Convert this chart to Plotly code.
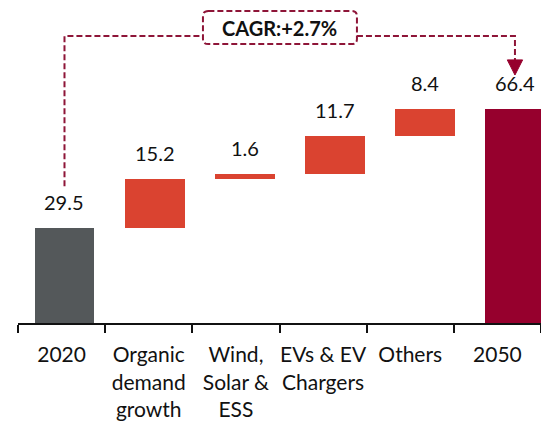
import plotly.graph_objects as go

# ---- data ----
categories = ["2020", "Organic<br>demand<br>growth", "Wind,<br>Solar &<br>ESS",
              "EVs & EV<br>Chargers", "Others", "2050"]
values = [29.5, 15.2, 1.6, 11.7, 8.4, 66.4]
measures = ["absolute", "relative", "relative", "relative", "relative", "total"]
value_labels = ["29.5", "15.2", "1.6", "11.7", "8.4", "66.4"]
cagr_text = "CAGR:+2.7%"

# ---- styles ----
GREY = "#54585A"
RED = "#DA4330"
DARK = "#96002D"
LINE = "#8E1538"
FONT = "Lato, 'Open Sans', sans-serif"
DASH = "6px,3px"

# compute bases / heights for floating bars
bases, heights, colors = [], [], []
running = 0.0
for v, m in zip(values, measures):
    if m == "absolute":
        bases.append(0); heights.append(v); colors.append(GREY); running = v
    elif m == "total":
        bases.append(0); heights.append(v); colors.append(DARK); running = v
    else:
        bases.append(running); heights.append(v); colors.append(RED); running += v

xpos = list(range(len(values)))

fig = go.Figure()
# invisible trace to establish category axis (labels and ticks)
fig.add_trace(go.Scatter(x=categories, y=[0] * len(categories), mode="markers",
                         marker=dict(opacity=0), hoverinfo="skip", showlegend=False,
                         xaxis="x", yaxis="y"))
fig.add_trace(go.Bar(x=xpos, y=heights, base=bases, marker=dict(color=colors, line=dict(width=0)),
                     width=0.665, xaxis="x2", yaxis="y", showlegend=False, hoverinfo="skip"))

annotations = []
for i, (b, h, t) in enumerate(zip(bases, heights, value_labels)):
    annotations.append(dict(x=i, y=b + h, xref="x2", yref="y", text=t, showarrow=False,
                            yanchor="bottom", yshift=12,
                            font=dict(family=FONT, size=20, color="#111111")))

# CAGR box and connector
bx0, bx1, by0, by1 = 1.537, 3.246, 86.6, 96.9
rx, ry = 0.06, 1.6
box_path = (f"M {bx0+rx},{by1} L {bx1-rx},{by1} Q {bx1},{by1} {bx1},{by1-ry} "
            f"L {bx1},{by0+ry} Q {bx1},{by0} {bx1-rx},{by0} L {bx0+rx},{by0} "
            f"Q {bx0},{by0} {bx0},{by0+ry} L {bx0},{by1-ry} Q {bx0},{by1} {bx0+rx},{by1} Z")
line_y = 89.1
start_x = xpos[0]
end_x = xpos[-1]
left_bottom = values[0] + 13
arrow_top = 81.7
arrow_tip = 77.0
aw = 0.085

shapes = [
    dict(type="path", path=box_path, xref="x2", yref="y",
         line=dict(color=LINE, width=2, dash=DASH), fillcolor="rgba(0,0,0,0)"),
    dict(type="path", xref="x2", yref="y",
         path=f"M {start_x},{left_bottom} L {start_x},{line_y} L {bx0},{line_y}",
         line=dict(color=LINE, width=2, dash=DASH)),
    dict(type="path", xref="x2", yref="y",
         path=f"M {bx1},{line_y} L {end_x},{line_y} L {end_x},{arrow_top}",
         line=dict(color=LINE, width=2, dash=DASH)),
    dict(type="path", xref="x2", yref="y",
         path=f"M {end_x-aw},{arrow_top} L {end_x+aw},{arrow_top} L {end_x},{arrow_tip} Z",
         line=dict(color=DARK, width=1), fillcolor=DARK),
]
annotations.append(dict(x=(bx0 + bx1) / 2, y=(by0 + by1) / 2, xref="x2", yref="y",
                        text=f"<b>{cagr_text}</b>", showarrow=False,
                        font=dict(family=FONT, size=20, color="#111111")))

fig.update_layout(
    width=541, height=422,
    margin=dict(l=18, r=0, t=0, b=99),
    paper_bgcolor="white", plot_bgcolor="white",
    font=dict(family=FONT, size=20, color="#111111"),
    bargap=0,
    xaxis=dict(type="category", categoryorder="array", categoryarray=categories,
               range=[-0.5, 5.5], showgrid=False, zeroline=False, automargin=False,
               showline=True, linecolor="#111111", linewidth=2,
               ticks="outside", ticklen=8, tickwidth=2, tickcolor="#111111",
               tickson="boundaries", ticklabelstandoff=12, tickangle=0,
               tickfont=dict(family=FONT, size=21, color="#111111")),
    xaxis2=dict(overlaying="x", range=[-0.516, 5.289], visible=False, automargin=False),
    yaxis=dict(range=[0, 100.3], visible=False, showgrid=False, zeroline=False, automargin=False),
    shapes=shapes,
    annotations=annotations,
)

fig.write_html("out.html", config={"displayModeBar": False},
               post_script="document.body.style.margin='0';document.body.style.overflow='hidden';")
